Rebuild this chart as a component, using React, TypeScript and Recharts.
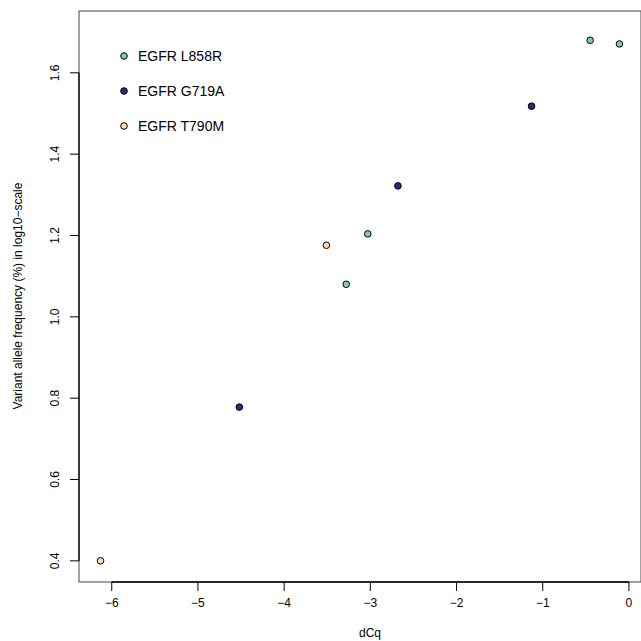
import { ScatterChart, Scatter, XAxis, YAxis, ReferenceArea, ReferenceLine, Legend } from 'recharts'

const series = ['EGFR L858R', 'EGFR G719A', 'EGFR T790M']
const colors = ['#7fccb0', '#252c80', '#fddcb0']

const l858rX = [-3.28, -3.03, -0.45, -0.11]
const l858rY = [1.08, 1.204, 1.68, 1.671]
const g719aX = [-4.52, -2.68, -1.13]
const g719aY = [0.778, 1.322, 1.518]
const t790mX = [-6.13, -3.51]
const t790mY = [0.4, 1.176]

const xTicks = [-6, -5, -4, -3, -2, -1, 0]
const yTicks = [0.4, 0.6, 0.8, 1.0, 1.2, 1.4, 1.6]

const toPoints = (xs: number[], ys: number[]) => xs.map((x, i) => ({ x, y: ys[i] }))
const seriesData = [toPoints(l858rX, l858rY), toPoints(g719aX, g719aY), toPoints(t790mX, t790mY)]

const X_MIN = -6.38
const X_MAX = 0.14
const Y_MIN = 0.348
const Y_MAX = 1.752

const FONT = '"Liberation Sans", Arial, Helvetica, sans-serif'

const Dot = (props: any) => {
  const { cx, cy, fill } = props
  if (cx == null || cy == null) return null
  return <circle cx={cx} cy={cy} r={3.3} fill={fill} stroke="#000" strokeWidth={1} />
}

const YTick = (props: any) => {
  const { y, payload } = props
  return (
    <text x={55} y={y} dy="0.35em" textAnchor="middle" transform={`rotate(-90, 55, ${y})`}
      fontSize={12} fill="#000" fontFamily={FONT}>
      {Number(payload.value).toFixed(1)}
    </text>
  )
}

const LegendBox = () => (
  <svg width={160} height={100}>
    {series.map((name, i) => (
      <g key={name}>
        <circle cx={9} cy={11 + i * 35} r={3.3} fill={colors[i]} stroke="#000" strokeWidth={1} />
        <text x={23} y={11 + i * 35} dy="0.36em" fontSize={14} fill="#000" fontFamily={FONT}>{name}</text>
      </g>
    ))}
  </svg>
)

export default function App() {
  return (
    <div style={{ position: 'absolute', left: 0, top: 0, fontFamily: FONT, background: '#fff' }}>
      <ScatterChart width={641} height={641} margin={{ top: 11, right: 0, bottom: 19, left: 0 }}>
        <XAxis
          type="number"
          dataKey="x"
          domain={[X_MIN, X_MAX]}
          ticks={xTicks}
          allowDataOverflow
          height={40}
          axisLine={false}
          tickSize={9}
          tickMargin={7}
          tickLine={{ stroke: '#000' }}
          tick={{ fontSize: 12, fill: '#000', fontFamily: FONT }}
          tickFormatter={(v: number) => String(v).replace('-', '\u2212')}
          label={() => (
            <text x={370} y={633} dy="0.35em" textAnchor="middle" fontSize={12} fill="#000" fontFamily={FONT}>dCq</text>
          )}
        />
        <YAxis
          type="number"
          dataKey="y"
          domain={[Y_MIN, Y_MAX]}
          ticks={yTicks}
          allowDataOverflow
          width={79}
          axisLine={false}
          tickSize={9}
          tickLine={{ stroke: '#000' }}
          tick={<YTick />}
          label={() => (
            <text x={18} y={296} dy="0.35em" textAnchor="middle" transform="rotate(-90, 18, 296)"
              fontSize={12} fill="#000" fontFamily={FONT}>
              Variant allele frequency (%) in log10−scale
            </text>
          )}
        />
        <ReferenceArea x1={X_MIN} x2={X_MAX} y1={Y_MIN} y2={Y_MAX} fill="none" stroke="#444" strokeWidth={1} ifOverflow="visible" />
        <ReferenceLine segment={[{ x: -6, y: Y_MIN }, { x: 0, y: Y_MIN }]} stroke="#000" strokeWidth={1.3} />
        <ReferenceLine segment={[{ x: X_MIN, y: 0.4 }, { x: X_MIN, y: 1.6 }]} stroke="#000" strokeWidth={1.3} />
        <Legend
          layout="vertical"
          align="center"
          verticalAlign="middle"
          content={() => <LegendBox />}
          wrapperStyle={{ position: 'absolute', left: 115, top: 45, width: 160, height: 100 }}
        />
        {series.map((name, i) => (
          <Scatter key={name} name={name} data={seriesData[i]} fill={colors[i]} shape={<Dot />} isAnimationActive={false} />
        ))}
      </ScatterChart>
    </div>
  )
}
